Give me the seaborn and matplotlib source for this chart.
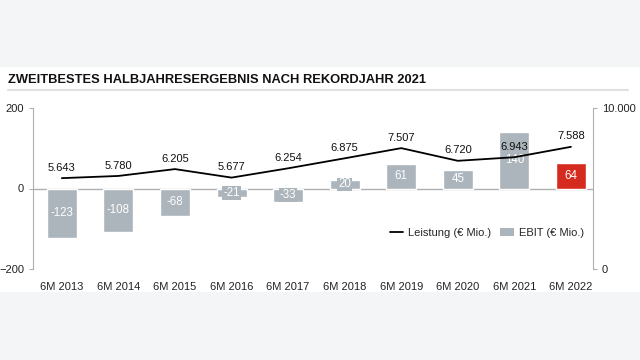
import numpy as np
import pandas as pd
import seaborn as sns
import matplotlib.pyplot as plt
from matplotlib.lines import Line2D
from matplotlib.patches import Patch, Rectangle

# chart data
cats = ["6M 2013", "6M 2014", "6M 2015", "6M 2016", "6M 2017",
        "6M 2018", "6M 2019", "6M 2020", "6M 2021", "6M 2022"]
ebit = [-123, -108, -68, -21, -33, 20, 61, 45, 140, 64]
leistung = [5643, 5780, 6205, 5677, 6254, 6875, 7507, 6720, 6943, 7588]

gray = "#abb5bb"
red = "#d52b1e"
colors = [gray] * 9 + [red]

sns.set_style("white")
plt.rcParams["font.family"] = ["Liberation Sans", "DejaVu Sans"]

fig = plt.figure(figsize=(6.4, 3.6), dpi=100)
fig.patch.set_facecolor("white")
# gray bands top and bottom
fig.patches.append(Rectangle((0, 0.8167), 1, 0.19, transform=fig.transFigure,
                             color="#f4f5f7", zorder=0))
fig.patches.append(Rectangle((0, 0), 1, 0.189, transform=fig.transFigure,
                             color="#f4f5f7", zorder=0))

fig.text(8 / 640, 1 - 80 / 360, "ZWEITBESTES HALBJAHRESERGEBNIS NACH REKORDJAHR 2021",
         fontsize=9.3, fontweight="bold", va="center", ha="left", color="#111111")
fig.lines.append(Line2D([8 / 640, 628 / 640], [1 - 90 / 360, 1 - 90 / 360],
                        transform=fig.transFigure, color="#e0e0e0", lw=1.5))

ax = fig.add_axes([33 / 640, 1 - 269 / 360, (593 - 33) / 640, 161 / 360])
ax.set_facecolor("none")
df = pd.DataFrame({"cat": cats, "ebit": ebit})
sns.barplot(data=df, x="cat", y="ebit", hue="cat", palette=colors, legend=False,
            width=0.53, saturation=1, ax=ax)
ax.set_xlim(-0.51, 9.39)
ax.set_ylim(-200, 200)
ax.set_yticks([-200, 0, 200])
ax.set_xlabel("")
ax.set_ylabel("")
ax.axhline(0, color="#b0b0b0", lw=1, zorder=0.5)
for s in ["top", "bottom", "right"]:
    ax.spines[s].set_visible(False)
ax.spines["left"].set_color("#b0b0b0")
ax.tick_params(axis="y", left=True, length=3, color="#b0b0b0", labelsize=8,
               labelcolor="#222222", pad=3.5)
ax.tick_params(axis="x", bottom=False, labelsize=8, labelcolor="#222222", pad=6)

for i, v in enumerate(ebit):
    c = colors[i]
    ax.text(i, v / 2, str(v), ha="center", va="center", color="white", fontsize=8.3,
            bbox=dict(facecolor=c, edgecolor="none", pad=0.6), zorder=3)

ax2 = ax.twinx()
ax2.set_facecolor("none")
sns.lineplot(x=np.arange(len(cats)), y=leistung, color="black", lw=1.3, ax=ax2)
ax2.set_ylim(0, 10000)
ax2.set_yticks([0, 10000])
ax2.set_yticklabels(["0", "10.000"])
for s in ["top", "bottom", "left"]:
    ax2.spines[s].set_visible(False)
ax2.spines["right"].set_color("#b0b0b0")
ax2.tick_params(axis="y", right=True, length=3, color="#b0b0b0", labelsize=8,
                labelcolor="#222222", pad=3.5)
for i, v in enumerate(leistung):
    ax2.annotate(f"{v:,}".replace(",", "."), (i, v), xytext=(0, 7.5),
                 textcoords="offset points", ha="center", va="center",
                 fontsize=8, color="#111111")

handles = [Line2D([0], [0], color="black", lw=1.3),
           Patch(facecolor=gray, edgecolor="none")]
fig.legend(handles, ["Leistung (€ Mio.)", "EBIT (€ Mio.)"], ncol=2,
           loc="center right", bbox_to_anchor=(590 / 640, 1 - 233 / 360),
           frameon=False, fontsize=8, handlelength=1.2, handletextpad=0.5,
           columnspacing=0.8, borderpad=0)

fig.savefig("out.png", dpi=100)
